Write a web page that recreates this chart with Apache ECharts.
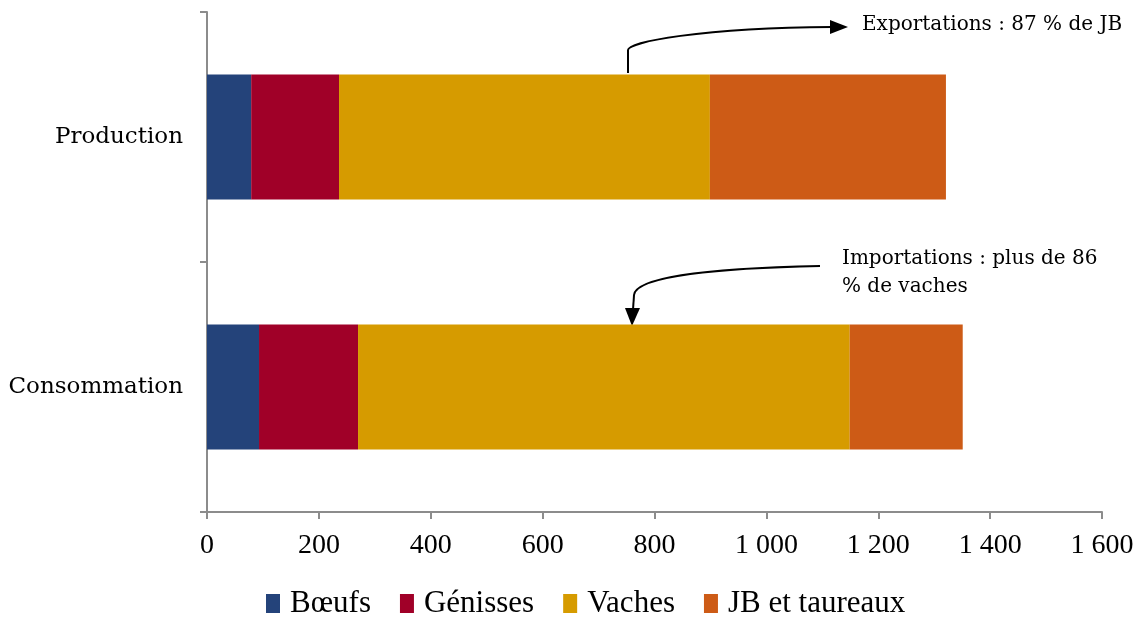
<!DOCTYPE html>
<html lang="fr">
<head>
    <meta charset="UTF-8">
    <title>Production et consommation</title>
    <style>
        html, body { margin: 0; padding: 0; background: #fff; }
        #main { width: 1143px; height: 619px; }
    </style>
</head>
<body>
    <div id="main"></div>
<script type="text/javascript" src="https://cdn.jsdelivr.net/npm/echarts@6/dist/echarts.min.js"></script>
<script type="text/javascript">
    var categories = ['Consommation', 'Production'];
    var seriesNames = ['Bœufs', 'Génisses', 'Vaches', 'JB et taureaux'];
    var boeufs = [93, 79];
    var genisses = [177, 157];
    var vaches = [879, 663];
    var jbTaureaux = [202, 422];
    var xTicks = [0, 200, 400, 600, 800, 1000, 1200, 1400, 1600];

    var colors = ['#24437a', '#a00028', '#d69b00', '#cd5b16'];
    var serif = '"DejaVu Serif", "Liberation Serif", serif';
    var narrow = '"Liberation Serif", serif';

    var myChart = echarts.init(document.getElementById('main'));

    function fmt(v) {
        return String(v).replace(/\B(?=(\d{3})+(?!\d))/g, ' ');
    }

    var values = [boeufs, genisses, vaches, jbTaureaux];
    var series = [];
    for (var i = 0; i < seriesNames.length; i++) {
        series.push({
            name: seriesNames[i],
            type: 'bar',
            stack: 'total',
            barWidth: '50%',
            itemStyle: { color: colors[i] },
            data: values[i]
        });
    }

    var option = {
        animation: false,
        grid: { left: 207, right: 41, top: 12, bottom: 107 },
        legend: {
            bottom: -5,
            left: 261,
            itemWidth: 14,
            itemHeight: 19,
            itemGap: 29,
            icon: 'rect',
            textStyle: { fontFamily: narrow, fontSize: 31, color: '#000', padding: [0, 0, 0, 5] },
            data: seriesNames
        },
        xAxis: {
            type: 'value',
            min: xTicks[0],
            max: xTicks[xTicks.length - 1],
            interval: 200,
            splitLine: { show: false },
            axisLine: { show: true, lineStyle: { color: '#8c8c8c', width: 2 } },
            axisTick: { show: true, length: 7, lineStyle: { color: '#8c8c8c', width: 2 } },
            axisLabel: {
                margin: 20,
                fontFamily: narrow,
                fontSize: 28,
                color: '#000',
                formatter: fmt
            }
        },
        yAxis: {
            type: 'category',
            data: categories,
            axisLine: { show: true, lineStyle: { color: '#8c8c8c', width: 2 } },
            axisTick: { show: true, length: 7, lineStyle: { color: '#8c8c8c', width: 2 } },
            axisLabel: {
                margin: 24,
                fontFamily: serif,
                fontSize: 23,
                color: '#000'
            }
        },
        series: series,
        graphic: [
            // Exportations arrow
            {
                type: 'polyline',
                shape: { points: [[628, 73], [628, 50]] },
                style: { stroke: '#000', lineWidth: 2, fill: null }
            },
            {
                type: 'bezierCurve',
                shape: { x1: 628, y1: 50, cpx1: 628, cpy1: 42, cpx2: 700, cpy2: 28, x2: 832, y2: 27 },
                style: { stroke: '#000', lineWidth: 2, fill: null }
            },
            {
                type: 'polygon',
                shape: { points: [[830, 20], [848, 27], [830, 34]] },
                style: { fill: '#000' }
            },
            {
                type: 'text',
                left: 862, top: 15,
                style: { text: 'Exportations : 87 % de JB', font: '20px ' + serif, fill: '#000' }
            },
            // Importations arrow
            {
                type: 'bezierCurve',
                shape: { x1: 820, y1: 266, cpx1: 720, cpy1: 268, cpx2: 636, cpy2: 276, x2: 634, y2: 295 },
                style: { stroke: '#000', lineWidth: 2, fill: null }
            },
            {
                type: 'polyline',
                shape: { points: [[634, 295], [633, 310]] },
                style: { stroke: '#000', lineWidth: 2, fill: null }
            },
            {
                type: 'polygon',
                shape: { points: [[625, 308], [632, 326], [640, 308]] },
                style: { fill: '#000' }
            },
            {
                type: 'text',
                left: 842, top: 245,
                style: { text: 'Importations : plus de 86\n% de vaches', font: '20px ' + serif, lineHeight: 28, fill: '#000' }
            }
        ]
    };
    myChart.setOption(option);
</script>
</body>
</html>
